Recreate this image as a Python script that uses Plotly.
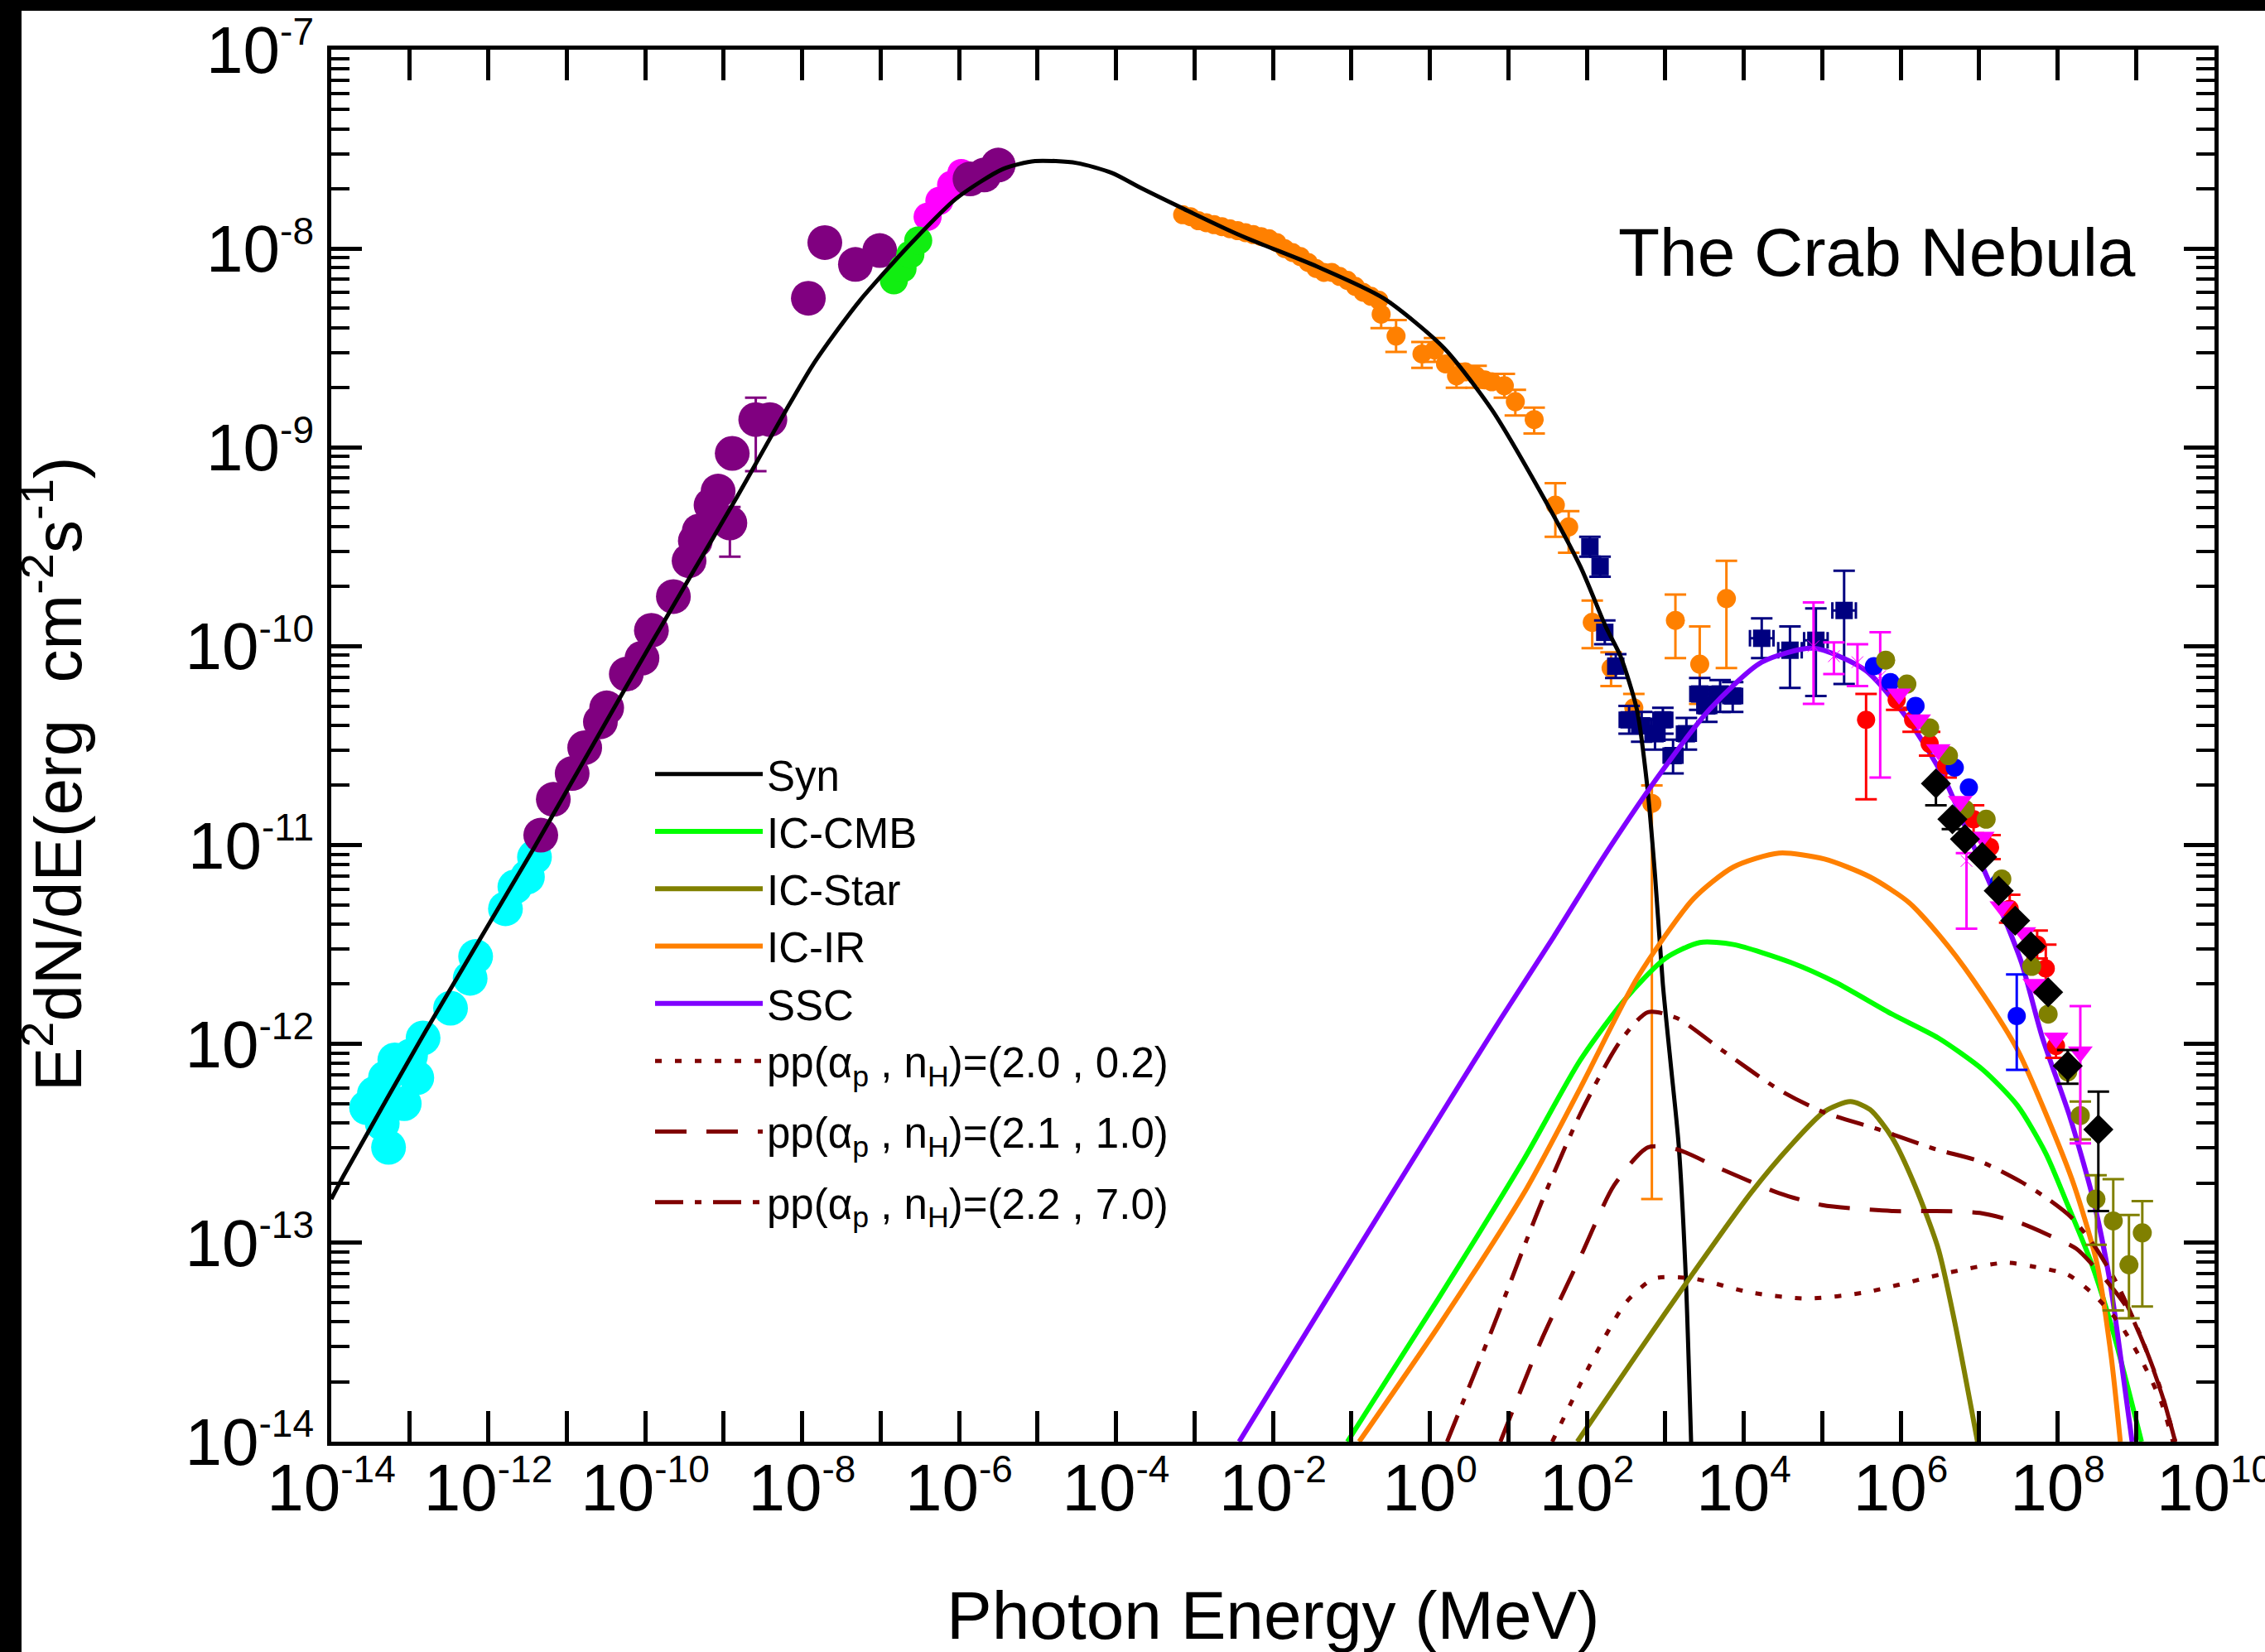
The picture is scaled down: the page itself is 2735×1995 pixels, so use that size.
import plotly.graph_objects as go

# ---------------- model curves: log10(E / MeV), log10(E^2 dN/dE / erg cm^-2 s^-1) ----------------
syn_logE = [-14.0, -13.84, -12.79, -11.41, -10.28, -9.44, -8.83, -8.53, -8.20, -7.87, -7.55, -7.26, -6.95, -6.65,
            -6.04, -5.44, -5.03, -4.50, -4.05, -3.66, -2.44, -1.44, -0.59, 0.18, 0.79, 1.39, 1.92, 2.24, 2.43,
            2.64, 2.77, 2.87, 2.97, 3.07, 3.17, 3.26, 3.33]
syn_logF = [-12.78, -12.66, -11.93, -11.01, -10.23, -9.66, -9.25, -9.04, -8.81, -8.59, -8.41, -8.26, -8.12, -7.99,
            -7.75, -7.60, -7.56, -7.57, -7.62, -7.70, -7.93, -8.09, -8.25, -8.50, -8.81, -9.21, -9.60, -9.90,
            -10.05, -10.32, -10.70, -11.15, -11.70, -12.10, -12.50, -13.15, -14.0]

iccmb_logE = [-1.05, 0.11, 1.20, 1.92, 2.50, 3.00, 3.44, 3.87, 4.60, 5.17, 5.89, 6.48, 7.05, 7.49, 7.85, 8.13,
              8.43, 8.71, 9.07]
iccmb_logF = [-14.0, -13.28, -12.58, -12.08, -11.77, -11.57, -11.49, -11.50, -11.59, -11.69, -11.85, -11.97,
              -12.13, -12.31, -12.55, -12.81, -13.10, -13.45, -14.0]

icstar_logE = [1.88, 2.64, 3.36, 4.09, 4.60, 5.03, 5.36, 5.61, 5.89, 6.18, 6.48, 6.69, 6.98]
icstar_logF = [-14.0, -13.56, -13.15, -12.75, -12.51, -12.34, -12.29, -12.33, -12.47, -12.71, -13.03, -13.40, -14.0]

icir_logE = [-0.90, 0.11, 1.20, 1.92, 2.64, 3.36, 3.87, 4.45, 5.03, 5.61, 6.11, 6.61, 7.05, 7.49, 7.85, 8.21,
             8.50, 8.68, 8.80]
icir_logF = [-14.0, -13.42, -12.75, -12.22, -11.67, -11.27, -11.11, -11.04, -11.07, -11.16, -11.29, -11.51,
             -11.75, -12.03, -12.35, -12.71, -13.10, -13.56, -14.0]

ssc_logE = [-2.43, -1.34, 0.385, 0.91, 1.58, 2.23, 2.90, 3.56, 4.23, 4.89, 5.55, 6.08, 6.55, 6.88, 7.21, 7.54,
            7.80, 8.16, 8.46, 8.67, 8.82, 8.95]
ssc_logF = [-14.0, -13.30, -12.20, -11.87, -11.46, -11.05, -10.66, -10.32, -10.08, -10.01, -10.12, -10.36,
            -10.66, -10.96, -11.26, -11.59, -11.96, -12.37, -12.79, -13.20, -13.62, -14.0]

pp1_logE = [1.56, 2.06, 2.50, 2.86, 3.36, 4.09, 4.81, 5.54, 6.61, 7.34, 7.70, 8.13, 8.46, 8.78, 9.07, 9.32, 9.47]
pp1_logF = [-14.0, -13.60, -13.30, -13.18, -13.18, -13.25, -13.28, -13.25, -13.15, -13.10, -13.12, -13.16,
            -13.26, -13.40, -13.59, -13.80, -14.0]

pp2_logE = [0.90, 1.41, 1.92, 2.35, 2.78, 3.15, 3.72, 4.45, 5.00, 5.89, 6.45, 7.01, 7.52, 7.88, 8.24, 8.60,
            8.89, 9.14, 9.36, 9.50]
pp2_logF = [-14.0, -13.50, -13.07, -12.71, -12.52, -12.53, -12.63, -12.75, -12.81, -12.84, -12.84, -12.85,
            -12.90, -12.96, -13.03, -13.18, -13.33, -13.55, -13.80, -14.0]

pp3_logE = [0.22, 0.83, 1.41, 1.92, 2.42, 2.78, 3.15, 3.72, 4.45, 5.00, 5.72, 6.45, 7.01, 7.52, 7.88, 8.17,
            8.46, 8.75, 9.04, 9.30, 9.50]
pp3_logF = [-14.0, -13.40, -12.81, -12.35, -11.99, -11.84, -11.87, -12.03, -12.23, -12.34, -12.43, -12.53,
            -12.59, -12.69, -12.78, -12.87, -13.01, -13.20, -13.45, -13.72, -14.0]

# ---------------- observed data (log10 values; err = log10 of bar ends, None = no bar) ----------------
radio_logE = [-13.55, -13.45, -13.40, -13.35, -13.31, -13.27, -13.19, -13.07, -12.99, -12.91, -12.83, -12.48,
              -12.23, -12.16, -11.78, -11.66, -11.50, -11.41]
radio_logF = [-12.32, -12.25, -12.32, -12.40, -12.17, -12.52, -12.08, -12.30, -12.06, -12.17, -11.97, -11.82,
              -11.67, -11.56, -11.32, -11.21, -11.16, -11.06]

ir_logE = [-11.33, -11.17, -10.93, -10.77, -10.57, -10.49, -10.24, -10.04, -9.92, -9.64, -9.44, -9.36, -9.31,
           -9.16, -9.07, -8.92, -8.89, -8.59, -8.41, -7.92, -7.71, -7.32, -7.01, -5.86, -5.68, -5.50]
ir_logF = [-10.95, -10.77, -10.64, -10.51, -10.38, -10.31, -10.14, -10.06, -9.92, -9.75, -9.57, -9.47, -9.42,
           -9.29, -9.22, -9.38, -9.03, -8.86, -8.86, -8.25, -7.97, -8.08, -8.01, -7.65, -7.63, -7.58]
ir_hi = [None] * 15 + [-9.30, None, -8.75, None] + [None] * 7
ir_lo = [None] * 15 + [-9.55, None, -9.12, None] + [None] * 7

optg_logE = [-6.83, -6.72, -6.62, -6.52]
optg_logF = [-8.16, -8.10, -8.03, -7.96]

optm_logE = [-6.40, -6.25, -6.10, -5.97]
optm_logF = [-7.84, -7.76, -7.68, -7.62]

xray_logE = [-3.15, -3.05, -2.95, -2.85, -2.75, -2.65, -2.55, -2.45, -2.35, -2.25, -2.15, -2.05, -1.95, -1.85,
             -1.75, -1.65, -1.55, -1.45, -1.35, -1.25, -1.15, -1.05, -0.95, -0.85, -0.75, -0.65, -0.62, -0.43,
             -0.10, 0.06, 0.20, 0.34, 0.45, 0.59, 0.70, 0.79, 0.95, 1.09, 1.33, 1.60, 1.77, 2.07, 2.31, 2.60,
             2.83, 3.13, 3.44, 3.78]
xray_logF = [-7.83, -7.84, -7.86, -7.87, -7.88, -7.89, -7.90, -7.91, -7.92, -7.93, -7.94, -7.95, -7.97, -8.00,
             -8.02, -8.04, -8.07, -8.10, -8.12, -8.12, -8.14, -8.16, -8.19, -8.22, -8.24, -8.26, -8.33, -8.44,
             -8.53, -8.51, -8.58, -8.64, -8.62, -8.64, -8.66, -8.67, -8.69, -8.77, -8.86, -9.29, -9.40, -9.88,
             -10.11, -10.31, -10.79, -9.87, -10.09, -9.76]
xray_hi = [None] * 26 + [-8.27, -8.36, -8.47, -8.45, None, -8.58, None, -8.59, None, None, -8.63, -8.71, -8.80,
                         -9.18, -9.32, -9.77, -10.03, -10.24, -10.70, -9.74, -9.90, -9.57]
xray_lo = [None] * 26 + [-8.40, -8.52, -8.60, -8.57, None, -8.70, None, -8.70, None, None, -8.75, -8.84, -8.93,
                         -9.45, -9.53, -10.01, -10.20, -10.39, -12.78, -10.06, -10.29, -10.11]

gev_logE = [2.04, 2.17, 2.23, 2.37, 2.54, 2.70, 2.87, 2.97, 3.10, 3.27, 3.44, 3.53, 3.70, 3.86, 4.23, 4.59,
            4.92, 5.28]
gev_logF = [-9.50, -9.60, -9.93, -10.10, -10.37, -10.40, -10.44, -10.37, -10.55, -10.44, -10.24, -10.30, -10.24,
            -10.25, -9.96, -10.02, -9.97, -9.82]
gev_hi = [-9.45, -9.55, -9.87, -10.04, -10.30, -10.33, -10.37, -10.31, -10.47, -10.36, -10.16, -10.22, -10.17,
          -10.18, -9.86, -9.90, -9.81, -9.62]
gev_lo = [-9.55, -9.65, -9.99, -10.16, -10.44, -10.48, -10.52, -10.44, -10.64, -10.52, -10.32, -10.38, -10.33,
          -10.33, -10.06, -10.21, -10.25, -10.19]
gev_Elo = [None] * 4 + [2.42, 2.58, 2.75, 2.85, 2.98, 3.15, 3.32, 3.41, 3.58, 3.74, 4.08, 4.44, 4.77, 5.13]
gev_Ehi = [None] * 4 + [2.66, 2.82, 2.99, 3.09, 3.22, 3.39, 3.56, 3.65, 3.82, 3.98, 4.38, 4.74, 5.07, 5.43]

tevm_logE = [5.98, 6.23, 6.48, 6.76, 7.04, 7.29, 7.57, 7.71, 7.98, 8.29]
tevm_logF = [-10.24, -10.37, -10.52, -10.78, -10.96, -11.31, -11.44, -11.70, -11.97, -12.04]
tevm_hi = [None] * 9 + [-11.81]
tevm_lo = [None] * 9 + [-12.50]

tevx_logE = [4.89, 5.15, 5.45, 5.74, 6.84]
tevx_logF = [-10.00, -10.05, -10.08, -10.15, -11.08]
tevx_hi = [-9.78, -9.98, -9.99, -9.93, -11.04]
tevx_lo = [-10.29, -10.14, -10.20, -10.66, -11.42]

tevr_logE = [5.56, 5.95, 6.16, 6.37, 6.58, 6.93, 7.14, 7.39, 7.74, 7.85, 7.98]
tevr_logF = [-10.37, -10.27, -10.37, -10.49, -10.60, -10.87, -11.01, -11.32, -11.50, -11.62, -12.01]
tevr_hi = [-10.24, -10.22, -10.31, -10.43, -10.54, -10.80, -10.95, -11.25, -11.43, -11.50, -11.95]
tevr_lo = [-10.77, -10.32, -10.43, -10.55, -10.66, -10.94, -11.07, -11.39, -11.57, -11.72, -12.07]

tevb_logE = [5.66, 5.87, 6.19, 6.69, 6.87, 7.25, 7.48]
tevb_logF = [-10.10, -10.18, -10.30, -10.61, -10.71, -11.19, -11.86]
tevb_hi = [None] * 6 + [-11.65]
tevb_lo = [None] * 6 + [-12.13]

tevo_logE = [5.81, 6.08, 6.37, 6.61, 6.82, 7.09, 7.29, 7.67, 7.88, 8.13, 8.29, 8.49, 8.71, 8.91, 9.08]
tevo_logF = [-10.07, -10.19, -10.41, -10.55, -10.82, -10.87, -11.17, -11.61, -11.85, -12.14, -12.36, -12.78,
             -12.89, -13.11, -12.95]
tevo_hi = [None] * 10 + [-12.29, -12.66, -12.68, -12.86, -12.79]
tevo_lo = [None] * 10 + [-12.48, -13.01, -13.34, -13.38, -13.32]

tevk_logE = [6.45, 6.66, 6.82, 7.04, 7.25, 7.46, 7.66, 7.88, 8.13, 8.52]
tevk_logF = [-10.69, -10.87, -10.97, -11.06, -11.23, -11.38, -11.51, -11.74, -12.11, -12.43]
tevk_hi = [None, None, None, None, None, None, None, None, -12.03, -12.24]
tevk_lo = [-10.80, -10.92, None, None, None, None, None, None, -12.20, -12.84]

# ---------------- text ----------------
legend_names = ["Syn", "IC-CMB", "IC-Star", "IC-IR", "SSC",
                "pp(α<sub>p</sub> , n<sub>H</sub>)=(2.0 , 0.2)",
                "pp(α<sub>p</sub> , n<sub>H</sub>)=(2.1 , 1.0)",
                "pp(α<sub>p</sub> , n<sub>H</sub>)=(2.2 , 7.0)"]
x_label_decades = list(range(-14, 11, 2))
x_minor_decades = list(range(-13, 10, 2))
y_decades = list(range(-14, -6))
chart_title = "The Crab Nebula"
x_title = "Photon Energy (MeV)"
y_title = "E<sup>2</sup>dN/dE(erg  cm<sup>-2</sup>s<sup>-1</sup>)"


def p(v):
    return [10.0 ** a for a in v]


fig = go.Figure()


def add_points(lx, ly, color, size, symbol="circle", hi=None, lo=None, elo=None, ehi=None, ecolor=None):
    n = len(lx)
    has = [i for i in range(n)
           if (hi is not None and hi[i] is not None) or (lo is not None and lo[i] is not None)
           or (elo is not None and elo[i] is not None)]
    plain = [i for i in range(n) if i not in has]
    mk = dict(color=color, size=size, symbol=symbol, line=dict(width=0))
    if plain:
        fig.add_trace(go.Scatter(x=[10 ** lx[i] for i in plain], y=[10 ** ly[i] for i in plain],
                                 mode="markers", marker=mk, showlegend=False, hoverinfo="skip"))
    if has:
        xs = [10 ** lx[i] for i in has]
        ys = [10 ** ly[i] for i in has]
        up = [(10 ** hi[i] - ys[k]) if (hi is not None and hi[i] is not None) else 0 for k, i in enumerate(has)]
        dn = [(ys[k] - 10 ** lo[i]) if (lo is not None and lo[i] is not None) else 0 for k, i in enumerate(has)]
        ec = ecolor or color
        tr = dict(x=xs, y=ys, mode="markers", marker=mk, showlegend=False, hoverinfo="skip",
                  error_y=dict(type="data", symmetric=False, array=up, arrayminus=dn,
                               color=ec, thickness=3, width=13))
        if elo is not None:
            xr = [(10 ** ehi[i] - xs[k]) if ehi[i] is not None else 0 for k, i in enumerate(has)]
            xl = [(xs[k] - 10 ** elo[i]) if elo[i] is not None else 0 for k, i in enumerate(has)]
            tr["error_x"] = dict(type="data", symmetric=False, array=xr, arrayminus=xl,
                                 color=ec, thickness=3, width=10)
        fig.add_trace(go.Scatter(**tr))


# low-energy data (below the synchrotron curve)
add_points(radio_logE, radio_logF, "#00ffff", 42)
add_points(optm_logE, optm_logF, "#ff00ff", 34)
add_points(ir_logE, ir_logF, "#800080", 42, hi=ir_hi, lo=ir_lo)
add_points(optg_logE, optg_logF, "#11ee11", 34)
add_points(xray_logE, xray_logF, "#ff8000", 23, hi=xray_hi, lo=xray_lo)
add_points(gev_logE, gev_logF, "#000080", 21, symbol="square", hi=gev_hi, lo=gev_lo, elo=gev_Elo, ehi=gev_Ehi)

# model curves
curves = [
    (syn_logE, syn_logF, "#000000", "solid", 5, "models"),
    (iccmb_logE, iccmb_logF, "#00ff00", "solid", 6, "models"),
    (icstar_logE, icstar_logF, "#808000", "solid", 6, "models"),
    (icir_logE, icir_logF, "#ff8000", "solid", 6, "models"),
    (ssc_logE, ssc_logF, "#8000ff", "solid", 6, "models"),
    (pp1_logE, pp1_logF, "#800000", "8px,16px", 5, "models"),
    (pp2_logE, pp2_logF, "#800000", "38px,24px", 5, "pp2"),
    (pp3_logE, pp3_logF, "#800000", "34px,14px,8px,14px", 5, "pp3"),
]
for (lx, ly, col, dash, w, grp), name in zip(curves, legend_names):
    fig.add_trace(go.Scatter(x=p(lx), y=p(ly), mode="lines", name=name, legendgroup=grp,
                             line=dict(color=col, width=w, dash=dash, shape="spline", smoothing=0.7),
                             hoverinfo="skip"))

# TeV data (on top of the curves)
add_points(tevx_logE, tevx_logF, "#ff00ff", 14, symbol="x-thin-open", hi=tevx_hi, lo=tevx_lo)
add_points(tevr_logE, tevr_logF, "#ff0000", 22, hi=tevr_hi, lo=tevr_lo)
add_points(tevb_logE, tevb_logF, "#0000ff", 22, hi=tevb_hi, lo=tevb_lo)
add_points(tevo_logE, tevo_logF, "#808000", 23, hi=tevo_hi, lo=tevo_lo)
add_points(tevm_logE, tevm_logF, "#ff00ff", 26, symbol="triangle-down", hi=tevm_hi, lo=tevm_lo)
add_points(tevk_logE, tevk_logF, "#000000", 28, symbol="diamond", hi=tevk_hi, lo=tevk_lo)


def sup_label(e):
    return "10<sup><span style=\"font-size:46px\">%d</span></sup>" % e


y_minor = [m * 10.0 ** e for e in y_decades[:-1] for m in range(2, 10)]

W, H = 2735, 1995
L, R, T, B = 400, 61, 60, 254
pw, ph = W - L - R, H - T - B


def px(xpix):
    return (xpix - L) / pw


def py(ypix):
    return (H - B - ypix) / ph


axis_common = dict(type="log", showgrid=False, zeroline=False, showline=True, linecolor="black", linewidth=5,
                   mirror="ticks", ticks="inside", tickcolor="black", tickwidth=5, ticklen=37, automargin=False,
                   tickfont=dict(size=80, color="black", family="Liberation Sans, Arial, sans-serif"))

fig.update_layout(
    width=W, height=H,
    margin=dict(l=L, r=R, t=T, b=B, pad=0, autoexpand=False),
    paper_bgcolor="white", plot_bgcolor="white",
    font=dict(family="Liberation Sans, Arial, sans-serif", color="black"),
    xaxis=dict(axis_common, range=[-14, 10], tickmode="array",
               tickvals=[10.0 ** e for e in x_label_decades],
               ticktext=[sup_label(e) for e in x_label_decades],
               ticklabeloverflow="allow", ticklabelstandoff=-18,
               minor=dict(tickmode="array", tickvals=[10.0 ** e for e in x_minor_decades], ticks="inside",
                          ticklen=37, tickwidth=5, tickcolor="black", showgrid=False)),
    yaxis=dict(axis_common, range=[-14, -7], tickmode="array", tickvals=[10.0 ** e for e in y_decades],
               ticktext=[sup_label(e) for e in y_decades],
               minor=dict(tickmode="array", tickvals=y_minor, ticks="inside", ticklen=22, tickwidth=4,
                          tickcolor="black", showgrid=False)),
    showlegend=True,
    legend=dict(x=px(786), y=py(895), xanchor="left", yanchor="top", bgcolor="rgba(0,0,0,0)",
                borderwidth=0, font=dict(size=51, color="black"), itemwidth=130,
                traceorder="grouped", tracegroupgap=16),
    annotations=[
        dict(text=chart_title, x=px(2581), y=py(305), xref="paper", yref="paper", xanchor="right",
             yanchor="middle", showarrow=False, font=dict(size=82, color="black")),
        dict(text=x_title, x=px(1537), y=py(1950), xref="paper", yref="paper", xanchor="center",
             yanchor="middle", showarrow=False, font=dict(size=82, color="black")),
        dict(text=y_title, x=px(64), y=py(935), xref="paper", yref="paper", xanchor="center",
             yanchor="middle", showarrow=False, textangle=-90, font=dict(size=80, color="black")),
    ],
    shapes=[
        dict(type="rect", xref="paper", yref="paper", x0=px(0), x1=px(26), y0=py(H), y1=py(0),
             fillcolor="black", line=dict(width=0), layer="above"),
        dict(type="rect", xref="paper", yref="paper", x0=px(0), x1=px(W), y0=py(13), y1=py(0),
             fillcolor="black", line=dict(width=0), layer="above"),
    ],
)

fig.write_html("out.html")
